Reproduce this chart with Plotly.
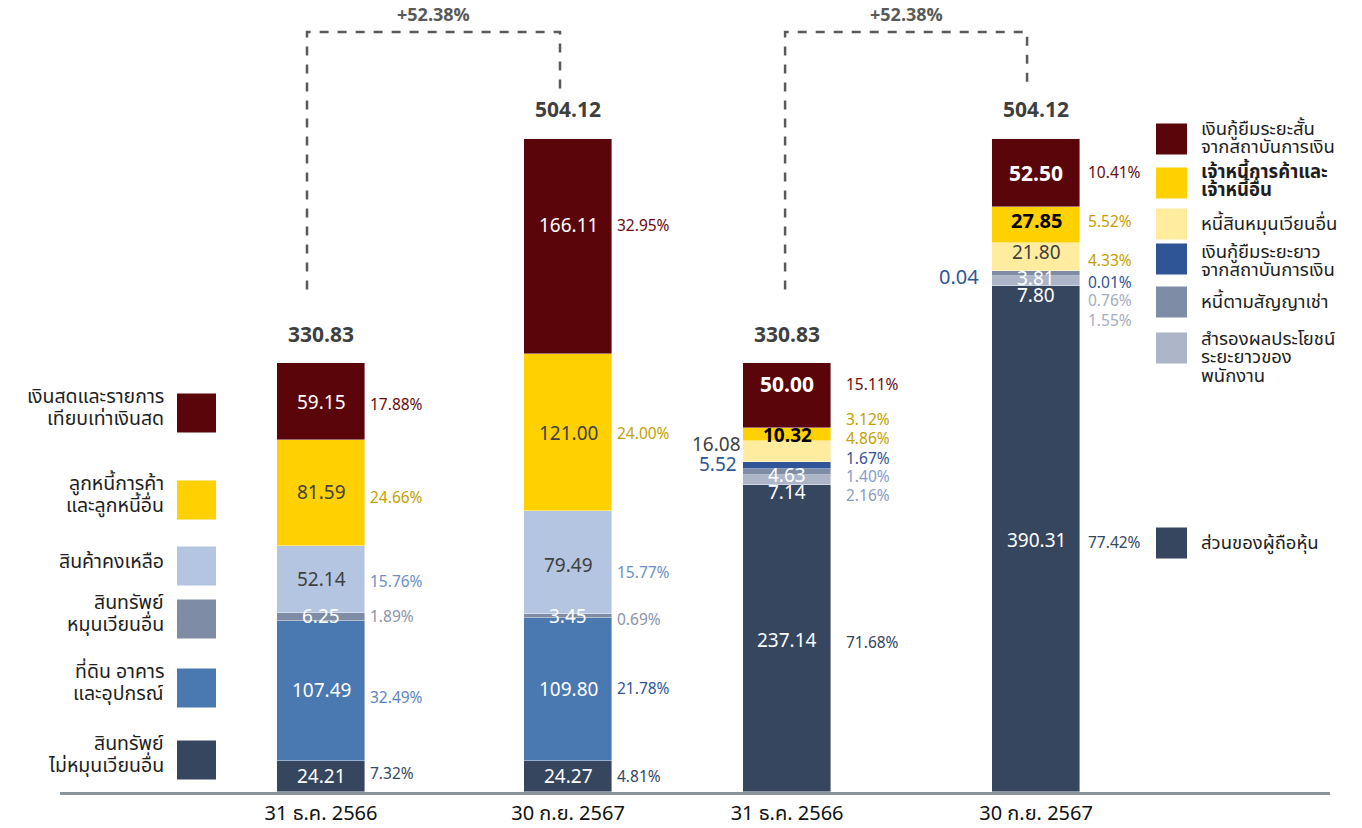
import plotly.graph_objects as go

# ---------------- data ----------------
PERIODS = ["31 ธ.ค. 2566", "30 ก.ย. 2567", "31 ธ.ค. 2566", "30 ก.ย. 2567"]

# assets (bottom -> top)
ASSET_NAMES = ["สินทรัพย์ไม่หมุนเวียนอื่น", "ที่ดิน อาคาร และอุปกรณ์", "สินทรัพย์หมุนเวียนอื่น",
               "สินค้าคงเหลือ", "ลูกหนี้การค้าและลูกหนี้อื่น", "เงินสดและรายการเทียบเท่าเงินสด"]
ASSET_2566 = [24.21, 107.49, 6.25, 52.14, 81.59, 59.15]
ASSET_2567 = [24.27, 109.80, 3.45, 79.49, 121.00, 166.11]
ASSET_PCT_2566 = ["7.32%", "32.49%", "1.89%", "15.76%", "24.66%", "17.88%"]
ASSET_PCT_2567 = ["4.81%", "21.78%", "0.69%", "15.77%", "24.00%", "32.95%"]

# liabilities & equity (bottom -> top)
LIAB_NAMES = ["ส่วนของผู้ถือหุ้น", "สำรองผลประโยชน์ระยะยาวของพนักงาน", "หนี้ตามสัญญาเช่า",
              "เงินกู้ยืมระยะยาวจากสถาบันการเงิน", "หนี้สินหมุนเวียนอื่น",
              "เจ้าหนี้การค้าและเจ้าหนี้อื่น", "เงินกู้ยืมระยะสั้นจากสถาบันการเงิน"]
LIAB_2566 = [237.14, 7.14, 4.63, 5.52, 16.08, 10.32, 50.00]
LIAB_2567 = [390.31, 7.80, 3.81, 0.04, 21.80, 27.85, 52.50]
LIAB_PCT_2566 = ["71.68%", "2.16%", "1.40%", "1.67%", "4.86%", "3.12%", "15.11%"]
LIAB_PCT_2567 = ["77.42%", "1.55%", "0.76%", "0.01%", "4.33%", "5.52%", "10.41%"]

TOTALS = [330.83, 504.12, 330.83, 504.12]
GROWTH = "+52.38%"

# legend text lines (top -> bottom)
LEFT_LEGEND = [["เงินสดและรายการ", "เทียบเท่าเงินสด"], ["ลูกหนี้การค้า", "และลูกหนี้อื่น"], ["สินค้าคงเหลือ"],
               ["สินทรัพย์", "หมุนเวียนอื่น"], ["ที่ดิน อาคาร", "และอุปกรณ์"], ["สินทรัพย์", "ไม่หมุนเวียนอื่น"]]
RIGHT_LEGEND = [["เงินกู้ยืมระยะสั้น", "จากสถาบันการเงิน"], ["เจ้าหนี้การค้าและ", "เจ้าหนี้อื่น"],
                ["หนี้สินหมุนเวียนอื่น"], ["เงินกู้ยืมระยะยาว", "จากสถาบันการเงิน"], ["หนี้ตามสัญญาเช่า"],
                ["สำรองผลประโยชน์", "ระยะยาวของ", "พนักงาน"], ["ส่วนของผู้ถือหุ้น"]]

# ---------------- style ----------------
FONT = "Noto Sans Thai, Kanit, Prompt, Noto Sans, sans-serif"
MAROON, YELLOW, PALEY = "#5a0509", "#ffd100", "#ffec9e"
LBLUE, GBLUE, MBLUE, NAVY = "#b4c5e2", "#7f8ca6", "#4a78b0", "#36465f"
DBLUE, LGRAY = "#2f5597", "#adb6c9"
ASSET_COLORS = [NAVY, MBLUE, GBLUE, LBLUE, YELLOW, MAROON]
LIAB_COLORS = [NAVY, LGRAY, GBLUE, DBLUE, PALEY, YELLOW, MAROON]

X_POS = [0, 1, 1.887, 2.895]
BAR_W = 0.356
PX_X = 247.0  # px per x unit
W, H = 1362, 828
ML, MR, MT, MB = 60, 32, 10, 36
PW, PH = W - ML - MR, H - MT - MB
Y_MAX = 603.4
PX_Y = PH / Y_MAX

fig = go.Figure()
for i, name in enumerate(ASSET_NAMES):
    fig.add_trace(go.Bar(x=X_POS[:2], y=[ASSET_2566[i], ASSET_2567[i]], name=name, width=BAR_W,
                         marker=dict(color=ASSET_COLORS[i], line=dict(width=0.6, color="rgba(255,255,255,0.7)")),
                         showlegend=False))
for i, name in enumerate(LIAB_NAMES):
    fig.add_trace(go.Bar(x=X_POS[2:], y=[LIAB_2566[i], LIAB_2567[i]], name=name, width=BAR_W,
                         marker=dict(color=LIAB_COLORS[i], line=dict(width=0.6, color="rgba(255,255,255,0.7)")),
                         showlegend=False))

ann = []
DARK = "#404040"
W_ = "white"


def seg_labels(xc, vals, pcts, in_styles, pct_colors, in_shift, pct_shift, pct_dx):
    base = 0.0
    for v, p, st, pc, s1, s2 in zip(vals, pcts, in_styles, pct_colors, in_shift, pct_shift):
        mid = base + v / 2
        color, bold, side, size = st
        txt = f"{v:.2f}"
        if bold:
            txt = f"<b>{txt}</b>"
        if side == "in":
            ann.append(dict(x=xc, y=mid, text=txt, showarrow=False, xanchor="center", yanchor="middle",
                            yshift=-s1, font=dict(color=color, size=size, family=FONT)))
        else:
            ann.append(dict(x=xc - BAR_W / 2, y=mid, text=txt, showarrow=False, xanchor="right",
                            yanchor="middle", xshift=side, yshift=-s1,
                            font=dict(color=color, size=size, family=FONT)))
        ann.append(dict(x=xc + BAR_W / 2, y=mid, text=p, showarrow=False, xanchor="left", yanchor="middle",
                        xshift=pct_dx, yshift=-s2, font=dict(color=pc, size=15.5, family=FONT)))
        base += v


PCT_MAROON, PCT_GOLD = "#6b0a0e", "#c49f00"
seg_labels(X_POS[0], ASSET_2566, ASSET_PCT_2566,
           [(W_, 0, "in", 19), (W_, 0, "in", 19), (W_, 0, "in", 19), (DARK, 0, "in", 19),
            (DARK, 0, "in", 19), (W_, 0, "in", 19)],
           [NAVY, "#5b85c0", "#8a94a8", "#6d8fc9", PCT_GOLD, PCT_MAROON],
           [1, 1, 0, 1, 1, 2], [-2, 8, 0, 3, 6, 4], 3)
seg_labels(X_POS[1], ASSET_2567, ASSET_PCT_2567,
           [(W_, 0, "in", 19), (W_, 0, "in", 19), (W_, 0, "in", 19), (DARK, 0, "in", 19),
            (DARK, 0, "in", 19), (W_, 0, "in", 19)],
           [NAVY, DBLUE, "#8a94a8", "#6d8fc9", PCT_GOLD, PCT_MAROON],
           [1, 1, 1, 4, 2, -20], [1, 0, 4, 11, 2, -20], 3)
seg_labels(X_POS[2], LIAB_2566, LIAB_PCT_2566,
           [(W_, 0, "in", 19), (W_, 0, "in", 19), (W_, 0, "in", 19), (DBLUE, 0, -4, 19),
            (DARK, 0, 0, 19), ("black", 1, "in", 19), (W_, 1, "in", 21)],
           [NAVY, "#8a9bbf", "#7f9cd0", DBLUE, PCT_GOLD, PCT_GOLD, PCT_MAROON],
           [3, 13, 4, 0, -6, 2, -10], [5, 16, 5, -6, -12, -14, -10], 13)
seg_labels(X_POS[3], LIAB_2567, LIAB_PCT_2567,
           [(W_, 0, "in", 19), (W_, 0, "in", 19), (W_, 0, "in", 19), (DBLUE, 0, -11, 20),
            (DARK, 0, "in", 19), ("black", 1, "in", 20), (W_, 1, "in", 21)],
           [NAVY, "#a3adc0", "#a3adc0", DBLUE, PCT_GOLD, PCT_GOLD, PCT_MAROON],
           [2, 15, 6, 7, -3, -3, 2], [4, 40, 28, 12, 5, -2, 1], 6)

# totals
for xc, t in zip(X_POS, TOTALS):
    ann.append(dict(x=xc, y=t, text=f"<b>{t:.2f}</b>", showarrow=False, xanchor="center", yanchor="middle",
                    yshift=28, font=dict(color="#3f3f3f", size=21, family=FONT)))

# growth brackets
shapes = []
Y_TOP = (PH - (32 - MT)) / PX_Y  # data y of the horizontal dashed line
dash = dict(color="#5a5a5a", width=2.5, dash="dash")
for (a, b, da, db, ea, eb) in [(0, 1, -14, -8, 57, 38.6), (2, 3, -2, -9, 57, 38.6)]:
    xa = X_POS[a] + da / PX_X
    xb = X_POS[b] + db / PX_X
    ya = TOTALS[a] + ea
    yb = TOTALS[b] + eb
    shapes.append(dict(type="path", xref="x", yref="y",
                       path=f"M {xa},{ya} L {xa},{Y_TOP} L {xb},{Y_TOP} L {xb},{yb}",
                       line=dash))
    ann.append(dict(x=(xa + xb) / 2, y=Y_TOP, text=f"<b>{GROWTH}</b>", showarrow=False, xanchor="center",
                    yanchor="bottom", yshift=1, font=dict(color="#595959", size=18, family=FONT)))


# legends (pixel placement helpers)
def px2paper(px, py):
    return (px - ML) / PW, (H - MB - py) / PH


LEFT_SQ = [413, 500, 566, 619, 688, 760]
LEFT_COLS = [MAROON, YELLOW, LBLUE, GBLUE, MBLUE, NAVY]
for lines, cy, col in zip(LEFT_LEGEND, LEFT_SQ, LEFT_COLS):
    x0, y0 = px2paper(177, cy + 19.5)
    x1, y1 = px2paper(216, cy - 19.5)
    shapes.append(dict(type="rect", xref="paper", yref="paper", x0=x0, x1=x1, y0=y0, y1=y1,
                       fillcolor=col, line=dict(width=0)))
    n = len(lines)
    for k, ln in enumerate(lines):
        ly = cy - 5 + (k - (n - 1) / 2) * 21.5 if n > 1 else cy - 4
        xp, yp = px2paper(166, ly)
        ann.append(dict(x=xp, y=yp, xref="paper", yref="paper", text=ln, showarrow=False, xanchor="right",
                        yanchor="middle", font=dict(color="#1e1e1e", size=19.5, family=FONT)))

RIGHT_SQ = [139, 183, 224, 259, 302, 348, 543]
RIGHT_COLS = [MAROON, YELLOW, PALEY, DBLUE, GBLUE, LGRAY, NAVY]
RIGHT_TXT_Y = [[129, 147], [172, 190], [224], [252, 270], [302], [339, 357, 376], [543]]
for idx, (lines, cy, col, tys) in enumerate(zip(RIGHT_LEGEND, RIGHT_SQ, RIGHT_COLS, RIGHT_TXT_Y)):
    x0, y0 = px2paper(1156, cy + 15.5)
    x1, y1 = px2paper(1187, cy - 15.5)
    shapes.append(dict(type="rect", xref="paper", yref="paper", x0=x0, x1=x1, y0=y0, y1=y1,
                       fillcolor=col, line=dict(width=0)))
    for ln, ty in zip(lines, tys):
        xp, yp = px2paper(1199, ty)
        t = f"<b>{ln}</b>" if idx == 1 else ln
        ann.append(dict(x=xp, y=yp, xref="paper", yref="paper", text=t, showarrow=False, xanchor="left",
                        yanchor="middle", font=dict(color="#1e1e1e", size=18.5, family=FONT)))

fig.update_layout(
    width=W, height=H, autosize=False,
    margin=dict(l=ML, r=MR, t=MT, b=MB, autoexpand=False),
    paper_bgcolor="white", plot_bgcolor="white",
    barmode="stack", bargap=0,
    showlegend=False,
    annotations=ann, shapes=shapes,
    xaxis=dict(range=[-261 / PX_X, 1009 / PX_X], tickvals=X_POS, ticktext=PERIODS, automargin=False,
               showgrid=False, zeroline=False, showline=True, linecolor="#8a9399", linewidth=3,
               ticks="", ticklabelstandoff=1,
               tickfont=dict(size=20, color="#111111", family=FONT), fixedrange=True),
    yaxis=dict(range=[0, Y_MAX], visible=False, fixedrange=True, automargin=False),
)

fig.write_html("out.html", config={"displayModeBar": False},
               post_script="document.body.style.margin='0';document.body.style.overflow='hidden';")
